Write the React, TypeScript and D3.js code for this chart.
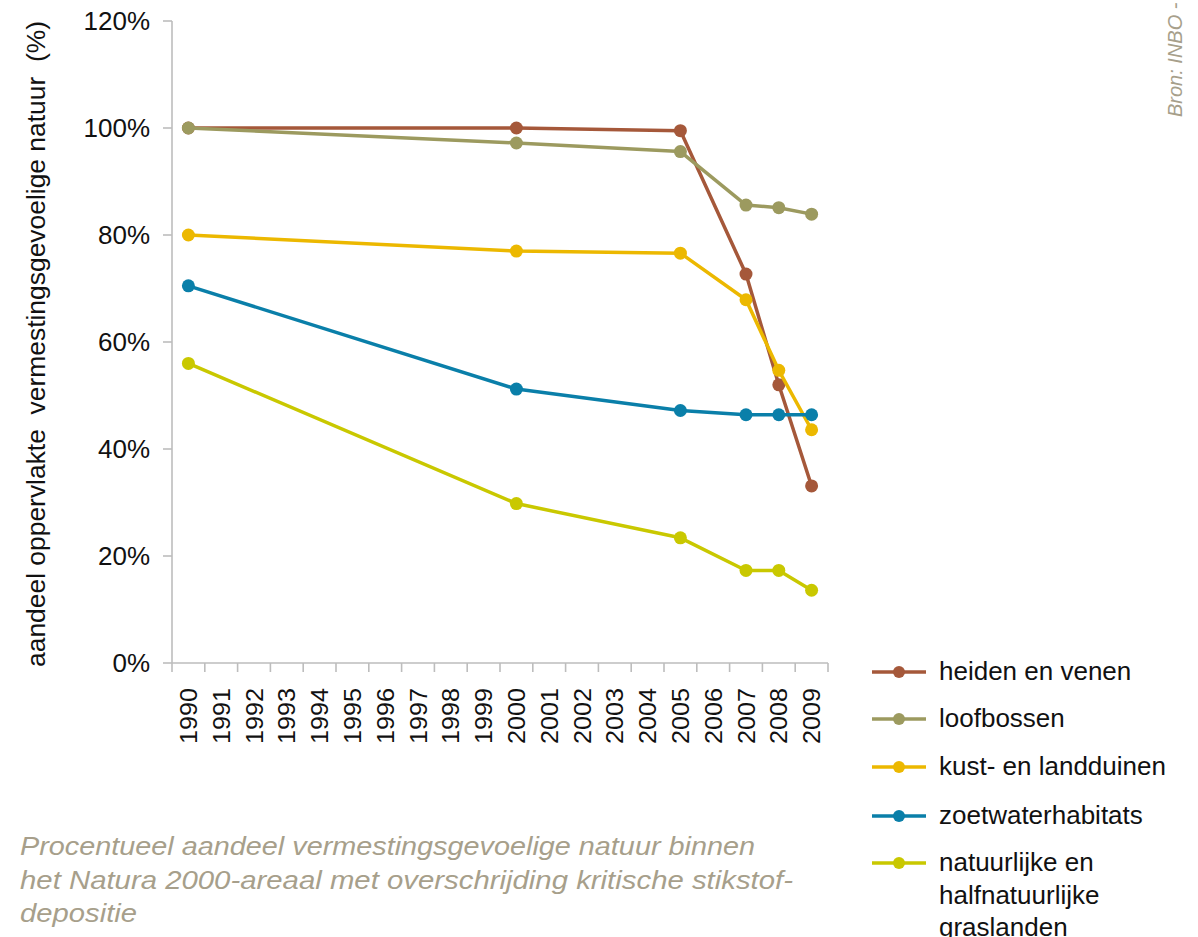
import React from "react";
import * as d3 from "d3";

const years = ["1990","1991","1992","1993","1994","1995","1996","1997","1998","1999","2000","2001","2002","2003","2004","2005","2006","2007","2008","2009"];
const dataYears = ["1990","2000","2005","2007","2008","2009"];
const heiden = [100, 100, 99.5, 72.7, 52.0, 33.1];
const loofbossen = [100, 97.2, 95.6, 85.6, 85.1, 83.9];
const kust = [80.0, 77.0, 76.6, 67.9, 54.7, 43.6];
const zoetwater = [70.5, 51.2, 47.2, 46.4, 46.4, 46.4];
const grasland = [56.0, 29.8, 23.4, 17.3, 17.3, 13.6];
const yTicks = [0, 20, 40, 60, 80, 100, 120];

const seriesNames = ["heiden en venen", "loofbossen", "kust- en landduinen", "zoetwaterhabitats", "natuurlijke en halfnatuurlijke graslanden"];
const legendLines = [["heiden en venen"], ["loofbossen"], ["kust- en landduinen"], ["zoetwaterhabitats"], ["natuurlijke en", "halfnatuurlijke", "graslanden"]];
const seriesValues = [heiden, loofbossen, kust, zoetwater, grasland];
const colors = ["#a5583a", "#9c9a5f", "#ecb800", "#0a7fa9", "#c9c800"];

const captionLines = [
  "Procentueel aandeel vermestingsgevoelige natuur binnen",
  "het Natura 2000-areaal met overschrijding kritische stikstof-",
  "depositie",
];
const captionLengths = [735, 773, 117];

const FONT = "'Liberation Sans', Helvetica, Arial, sans-serif";

export default function App() {
  const W = 1198, H = 937;
  const x = d3.scaleBand<string>().domain(years).range([172, 828]);
  const y = d3.scaleLinear().domain([0, 120]).range([663, 21]);
  const cx = (yr: string) => (x(yr) as number) + x.bandwidth() / 2;
  const line = d3.line<number>().x((_, i) => cx(dataYears[i])).y((v) => y(v));
  const axisColor = "#bdbdbd";
  const legendY = [672, 719, 767, 816, 863];

  return (
    <svg width={W} height={H} style={{ position: "absolute", left: 0, top: 0, background: "#fff" }} fontFamily={FONT}>
      {/* y axis */}
      <line x1={172} x2={172} y1={y(120)} y2={y(0)} stroke={axisColor} strokeWidth={1.6} />
      {yTicks.map((t) => (
        <g key={t}>
          <line x1={163} x2={172} y1={y(t)} y2={y(t)} stroke={axisColor} strokeWidth={1.6} />
          <text x={150} y={y(t)} dy="0.35em" textAnchor="end" fontSize={26} fill="#111">{t}%</text>
        </g>
      ))}
      {/* x axis */}
      <line x1={172} x2={828} y1={y(0)} y2={y(0)} stroke={axisColor} strokeWidth={1.6} />
      {years.map((yr) => (
        <line key={"t" + yr} x1={x(yr)} x2={x(yr)} y1={y(0)} y2={y(0) + 9} stroke={axisColor} strokeWidth={1.6} />
      ))}
      <line x1={828} x2={828} y1={y(0)} y2={y(0) + 9} stroke={axisColor} strokeWidth={1.6} />
      {years.map((yr) => (
        <text key={"l" + yr} transform={`translate(${cx(yr)},688) rotate(-90)`} dy="0.36em" textAnchor="end" fontSize={24} fill="#111" textLength={56} lengthAdjust="spacingAndGlyphs">{yr}</text>
      ))}
      {/* y title */}
      <text transform="translate(45,667) rotate(-90)" fontSize={26} fill="#111" style={{ whiteSpace: "pre" }} textLength={646} lengthAdjust="spacingAndGlyphs">{"aandeel oppervlakte  vermestingsgevoelige natuur  (%)"}</text>
      {/* series */}
      {seriesValues.map((vals, si) => (
        <g key={seriesNames[si]}>
          <path d={line(vals) as string} fill="none" stroke={colors[si]} strokeWidth={3.5} strokeLinejoin="round" />
          {vals.map((v, i) => (
            <circle key={i} cx={cx(dataYears[i])} cy={y(v)} r={6.5} fill={colors[si]} />
          ))}
        </g>
      ))}
      {/* legend */}
      {legendLines.map((lines, i) => (
        <g key={"lg" + i}>
          <line x1={872} x2={926} y1={legendY[i]} y2={legendY[i]} stroke={colors[i]} strokeWidth={3.5} />
          <circle cx={899} cy={legendY[i]} r={6} fill={colors[i]} />
          {lines.map((t, j) => (
            <text key={j} x={939} y={legendY[i] + 8 + j * 32.5} fontSize={26} fill="#111">{t}</text>
          ))}
        </g>
      ))}
      {/* source */}
      <text transform="translate(1182,117) rotate(-90)" fontSize={20} fontStyle="italic" fill="#a79f8b">Bron: INBO -</text>
      {/* caption */}
      {captionLines.map((t, i) => (
        <text key={"c" + i} x={20} y={855 + i * 33.5} fontSize={25} fontStyle="italic" fill="#a79f8b" textLength={captionLengths[i]} lengthAdjust="spacingAndGlyphs">{t}</text>
      ))}
    </svg>
  );
}
